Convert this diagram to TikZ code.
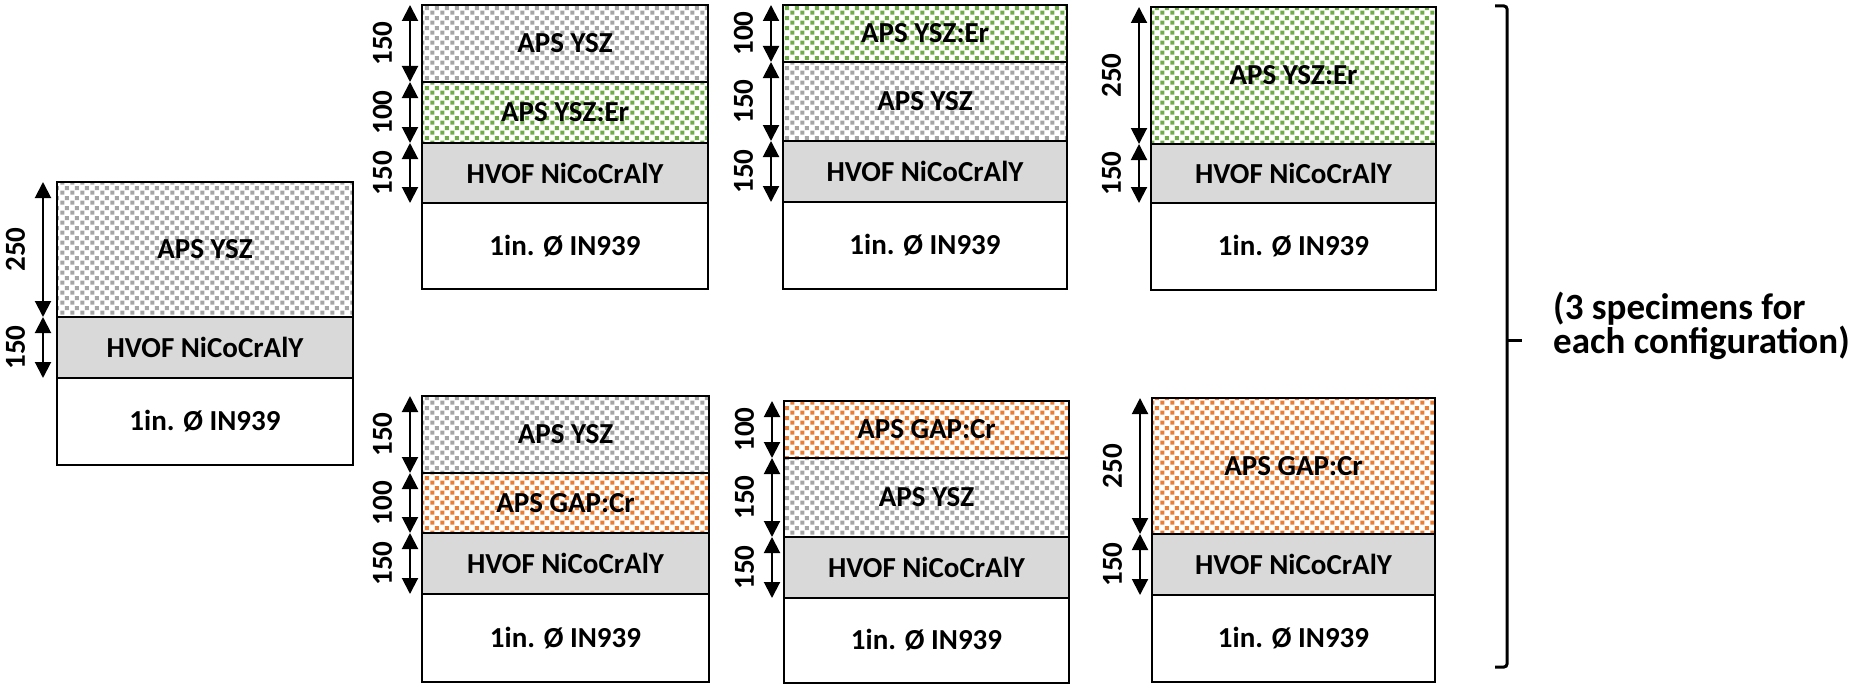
\documentclass[tikz,border=0pt]{standalone}
\usepackage{fontspec}
\setmainfont{Carlito}
\usetikzlibrary{arrows.meta,patterns.meta}

\definecolor{yszgray}{HTML}{A5A5A5}
\definecolor{ergreen}{HTML}{70AD47}
\definecolor{gaporange}{HTML}{ED7D31}
\definecolor{bondgray}{HTML}{D9D9D9}

\newcommand{\lyrfont}{\fontsize{29}{34}\selectfont\bfseries}
\newcommand{\notefont}{\fontsize{37}{34}\selectfont\bfseries}

\pgfdeclarepattern{
  name=confetti,
  type=uncolored,
  bottom left={\pgfpoint{0pt}{0pt}},
  top right={\pgfpoint{10pt}{10pt}},
  tile size={\pgfpoint{10pt}{10pt}},
  code={
    \pgfpathrectangle{\pgfpoint{0.3pt}{0.3pt}}{\pgfpoint{4.4pt}{4.4pt}}
    \pgfpathrectangle{\pgfpoint{5.3pt}{5.3pt}}{\pgfpoint{4.4pt}{4.4pt}}
    \pgfusepath{fill}
  }
}

\begin{document}
\begin{tikzpicture}[x=1pt,y=-1pt,
  layer/.style={draw,line width=2.5pt,outer sep=0pt,inner sep=0pt,font=\lyrfont},
  yszlayer/.style={layer,fill=white,pattern=confetti,pattern color=yszgray},
  erlayer/.style={layer,fill=white,pattern=confetti,pattern color=ergreen},
  gaplayer/.style={layer,fill=white,pattern=confetti,pattern color=gaporange},
  bondlayer/.style={layer,fill=bondgray},
  sublayer/.style={layer,fill=white},
  dimarrow/.style={{Triangle[width=16pt,length=16pt]}-{Triangle[width=16pt,length=16pt]},line width=2pt},
  dimlabel/.style={rotate=90,anchor=south,inner xsep=0pt,inner ysep=17pt,font=\lyrfont}]
  \useasboundingbox (0,0) rectangle (1857,685);

  % single YSZ reference coating
  \node[yszlayer,minimum width=296pt,minimum height=135pt] (a1) at (205,249.5) {APS YSZ};
  \node[bondlayer,minimum width=296pt,minimum height=61pt] (a2) at (205,347.5) {HVOF NiCoCrAlY};
  \node[sublayer,minimum width=296pt,minimum height=87pt] (a3) at (205,421.5) {1in. Ø IN939};

  % YSZ:Er configurations
  \node[yszlayer,minimum width=286pt,minimum height=77pt] (b1) at (565,43.5) {APS YSZ};
  \node[erlayer,minimum width=286pt,minimum height=61pt] (b2) at (565,112.5) {APS YSZ:Er};
  \node[bondlayer,minimum width=286pt,minimum height=60pt] (b3) at (565,173) {HVOF NiCoCrAlY};
  \node[sublayer,minimum width=286pt,minimum height=86pt] (b4) at (565,246) {1in. Ø IN939};

  \node[erlayer,minimum width=284pt,minimum height=57pt] (c1) at (925,33.5) {APS YSZ:Er};
  \node[yszlayer,minimum width=284pt,minimum height=79pt] (c2) at (925,101.5) {APS YSZ};
  \node[bondlayer,minimum width=284pt,minimum height=61pt] (c3) at (925,171.5) {HVOF NiCoCrAlY};
  \node[sublayer,minimum width=284pt,minimum height=87pt] (c4) at (925,245.5) {1in. Ø IN939};

  \node[erlayer,minimum width=285pt,minimum height=137pt] (d1) at (1293.5,75.5) {APS YSZ:Er};
  \node[bondlayer,minimum width=285pt,minimum height=59pt] (d2) at (1293.5,173.5) {HVOF NiCoCrAlY};
  \node[sublayer,minimum width=285pt,minimum height=87pt] (d3) at (1293.5,246.5) {1in. Ø IN939};

  % GAP:Cr configurations
  \node[yszlayer,minimum width=287pt,minimum height=77pt] (e1) at (565.5,434.5) {APS YSZ};
  \node[gaplayer,minimum width=287pt,minimum height=60pt] (e2) at (565.5,503) {APS GAP:Cr};
  \node[bondlayer,minimum width=287pt,minimum height=61pt] (e3) at (565.5,563.5) {HVOF NiCoCrAlY};
  \node[sublayer,minimum width=287pt,minimum height=88pt] (e4) at (565.5,638) {1in. Ø IN939};

  \node[gaplayer,minimum width=285pt,minimum height=57pt] (f1) at (926.5,429.5) {APS GAP:Cr};
  \node[yszlayer,minimum width=285pt,minimum height=79pt] (f2) at (926.5,497.5) {APS YSZ};
  \node[bondlayer,minimum width=285pt,minimum height=61pt] (f3) at (926.5,567.5) {HVOF NiCoCrAlY};
  \node[sublayer,minimum width=285pt,minimum height=85pt] (f4) at (926.5,640.5) {1in. Ø IN939};

  \node[gaplayer,minimum width=283pt,minimum height=136pt] (g1) at (1293.5,466) {APS GAP:Cr};
  \node[bondlayer,minimum width=283pt,minimum height=61pt] (g2) at (1293.5,564.5) {HVOF NiCoCrAlY};
  \node[sublayer,minimum width=283pt,minimum height=87pt] (g3) at (1293.5,638.5) {1in. Ø IN939};

  % thickness arrows
  \draw[dimarrow] ([xshift=-14pt]a1.north west) -- node[dimlabel] {250} ([xshift=-14pt]a1.south west);
  \draw[dimarrow] ([xshift=-14pt]a2.north west) -- node[dimlabel] {150} ([xshift=-14pt]a2.south west);
  \draw[dimarrow] ([xshift=-12pt]b1.north west) -- node[dimlabel] {150} ([xshift=-12pt]b1.south west);
  \draw[dimarrow] ([xshift=-12pt]b2.north west) -- node[dimlabel] {100} ([xshift=-12pt]b2.south west);
  \draw[dimarrow] ([xshift=-12pt]b3.north west) -- node[dimlabel] {150} ([xshift=-12pt]b3.south west);
  \draw[dimarrow] ([xshift=-12pt]c1.north west) -- node[dimlabel] {100} ([xshift=-12pt]c1.south west);
  \draw[dimarrow] ([xshift=-12pt]c2.north west) -- node[dimlabel] {150} ([xshift=-12pt]c2.south west);
  \draw[dimarrow] ([xshift=-12pt]c3.north west) -- node[dimlabel] {150} ([xshift=-12pt]c3.south west);
  \draw[dimarrow] ([xshift=-12pt]d1.north west) -- node[dimlabel] {250} ([xshift=-12pt]d1.south west);
  \draw[dimarrow] ([xshift=-12pt]d2.north west) -- node[dimlabel] {150} ([xshift=-12pt]d2.south west);
  \draw[dimarrow] ([xshift=-12pt]e1.north west) -- node[dimlabel] {150} ([xshift=-12pt]e1.south west);
  \draw[dimarrow] ([xshift=-12pt]e2.north west) -- node[dimlabel] {100} ([xshift=-12pt]e2.south west);
  \draw[dimarrow] ([xshift=-12pt]e3.north west) -- node[dimlabel] {150} ([xshift=-12pt]e3.south west);
  \draw[dimarrow] ([xshift=-12pt]f1.north west) -- node[dimlabel] {100} ([xshift=-12pt]f1.south west);
  \draw[dimarrow] ([xshift=-12pt]f2.north west) -- node[dimlabel] {150} ([xshift=-12pt]f2.south west);
  \draw[dimarrow] ([xshift=-12pt]f3.north west) -- node[dimlabel] {150} ([xshift=-12pt]f3.south west);
  \draw[dimarrow] ([xshift=-12pt]g1.north west) -- node[dimlabel] {250} ([xshift=-12pt]g1.south west);
  \draw[dimarrow] ([xshift=-12pt]g2.north west) -- node[dimlabel] {150} ([xshift=-12pt]g2.south west);

  % bracket and note
  \draw[line width=3pt,rounded corners=3pt] (1495,6) -- (1507,6) -- (1507,667) -- (1495,667);
  \draw[line width=3pt] (1507,340) -- (1522,340);
  \node[anchor=west,align=left,inner sep=0pt,font=\notefont] (note) at (1553,326) {(3 specimens for\\each configuration)};
\end{tikzpicture}
\end{document}
